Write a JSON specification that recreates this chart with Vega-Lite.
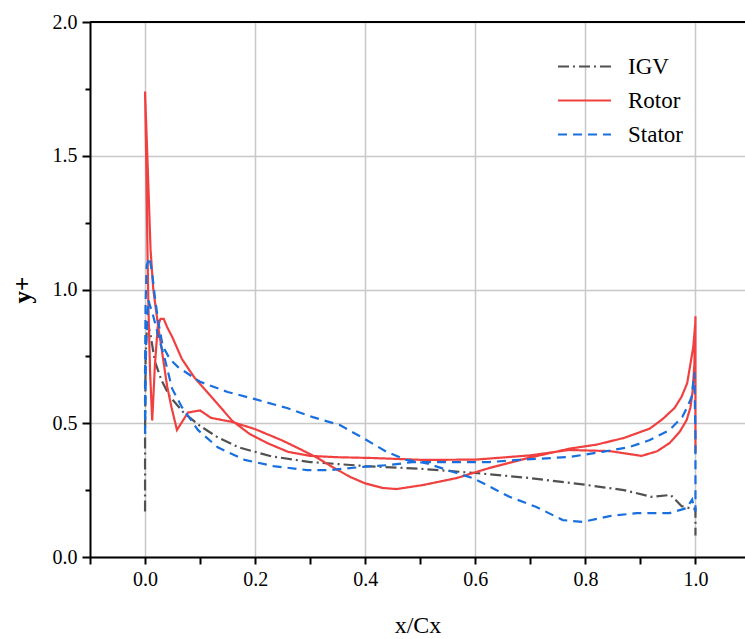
{
  "$schema": "https://vega.github.io/schema/vega-lite/v6.json",
  "width": 655,
  "height": 535,
  "autosize": "none",
  "padding": {"left": 90, "top": 22, "right": 0, "bottom": 82},
  "config": {"view": {"stroke": null}, "font": "Liberation Serif", "background": "white"},
  "layer": [
    {
      "data": {"values": [
        {"s":"IGV","i":1,"x":0.0,"y":0.17},{"s":"IGV","i":2,"x":0.0,"y":0.45},{"s":"IGV","i":3,"x":0.001,"y":0.75},{"s":"IGV","i":4,"x":0.004,"y":0.88},{"s":"IGV","i":5,"x":0.01,"y":0.83},{"s":"IGV","i":6,"x":0.018,"y":0.73},{"s":"IGV","i":7,"x":0.03,"y":0.66},{"s":"IGV","i":8,"x":0.045,"y":0.6},{"s":"IGV","i":9,"x":0.07,"y":0.54},{"s":"IGV","i":10,"x":0.1,"y":0.49},{"s":"IGV","i":11,"x":0.13,"y":0.45},{"s":"IGV","i":12,"x":0.17,"y":0.41},{"s":"IGV","i":13,"x":0.23,"y":0.376},{"s":"IGV","i":14,"x":0.3,"y":0.355},{"s":"IGV","i":15,"x":0.4,"y":0.34},{"s":"IGV","i":16,"x":0.5,"y":0.33},{"s":"IGV","i":17,"x":0.6,"y":0.314},{"s":"IGV","i":18,"x":0.7,"y":0.295},{"s":"IGV","i":19,"x":0.8,"y":0.27},{"s":"IGV","i":20,"x":0.87,"y":0.25},{"s":"IGV","i":21,"x":0.92,"y":0.225},{"s":"IGV","i":22,"x":0.955,"y":0.232},{"s":"IGV","i":23,"x":0.975,"y":0.19},{"s":"IGV","i":24,"x":0.99,"y":0.182},{"s":"IGV","i":25,"x":1.0,"y":0.18},{"s":"IGV","i":26,"x":1.0,"y":0.08},
        {"s":"Rotor","i":1,"x":0.0,"y":1.74},{"s":"Rotor","i":2,"x":0.002,"y":1.5},{"s":"Rotor","i":3,"x":0.004,"y":1.2},{"s":"Rotor","i":4,"x":0.006,"y":0.95},{"s":"Rotor","i":5,"x":0.009,"y":0.7},{"s":"Rotor","i":6,"x":0.013,"y":0.51},{"s":"Rotor","i":7,"x":0.018,"y":0.72},{"s":"Rotor","i":8,"x":0.023,"y":0.86},{"s":"Rotor","i":9,"x":0.028,"y":0.89},{"s":"Rotor","i":10,"x":0.034,"y":0.89},{"s":"Rotor","i":11,"x":0.04,"y":0.86},{"s":"Rotor","i":12,"x":0.05,"y":0.82},{"s":"Rotor","i":13,"x":0.067,"y":0.74},{"s":"Rotor","i":14,"x":0.09,"y":0.67},{"s":"Rotor","i":15,"x":0.12,"y":0.6},{"s":"Rotor","i":16,"x":0.158,"y":0.51},{"s":"Rotor","i":17,"x":0.19,"y":0.46},{"s":"Rotor","i":18,"x":0.223,"y":0.425},{"s":"Rotor","i":19,"x":0.26,"y":0.393},{"s":"Rotor","i":20,"x":0.3,"y":0.378},{"s":"Rotor","i":21,"x":0.35,"y":0.373},{"s":"Rotor","i":22,"x":0.414,"y":0.37},{"s":"Rotor","i":23,"x":0.505,"y":0.363},{"s":"Rotor","i":24,"x":0.6,"y":0.364},{"s":"Rotor","i":25,"x":0.7,"y":0.38},{"s":"Rotor","i":26,"x":0.77,"y":0.4},{"s":"Rotor","i":27,"x":0.844,"y":0.396},{"s":"Rotor","i":28,"x":0.902,"y":0.378},{"s":"Rotor","i":29,"x":0.93,"y":0.395},{"s":"Rotor","i":30,"x":0.953,"y":0.426},{"s":"Rotor","i":31,"x":0.972,"y":0.47},{"s":"Rotor","i":32,"x":0.984,"y":0.512},{"s":"Rotor","i":33,"x":0.991,"y":0.56},{"s":"Rotor","i":34,"x":0.995,"y":0.624},{"s":"Rotor","i":35,"x":0.998,"y":0.72},{"s":"Rotor","i":36,"x":1.0,"y":0.9},{"s":"Rotor","i":37,"x":1.0,"y":0.39},{"s":"Rotor","i":38,"x":1.0,"y":0.88},{"s":"Rotor","i":39,"x":0.996,"y":0.785},{"s":"Rotor","i":40,"x":0.985,"y":0.65},{"s":"Rotor","i":41,"x":0.975,"y":0.6},{"s":"Rotor","i":42,"x":0.962,"y":0.557},{"s":"Rotor","i":43,"x":0.94,"y":0.515},{"s":"Rotor","i":44,"x":0.917,"y":0.48},{"s":"Rotor","i":45,"x":0.87,"y":0.445},{"s":"Rotor","i":46,"x":0.82,"y":0.42},{"s":"Rotor","i":47,"x":0.771,"y":0.405},{"s":"Rotor","i":48,"x":0.7,"y":0.372},{"s":"Rotor","i":49,"x":0.626,"y":0.333},{"s":"Rotor","i":50,"x":0.566,"y":0.295},{"s":"Rotor","i":51,"x":0.505,"y":0.269},{"s":"Rotor","i":52,"x":0.457,"y":0.254},{"s":"Rotor","i":53,"x":0.432,"y":0.258},{"s":"Rotor","i":54,"x":0.4,"y":0.275},{"s":"Rotor","i":55,"x":0.372,"y":0.3},{"s":"Rotor","i":56,"x":0.34,"y":0.337},{"s":"Rotor","i":57,"x":0.312,"y":0.372},{"s":"Rotor","i":58,"x":0.28,"y":0.405},{"s":"Rotor","i":59,"x":0.25,"y":0.435},{"s":"Rotor","i":60,"x":0.2,"y":0.478},{"s":"Rotor","i":61,"x":0.158,"y":0.505},{"s":"Rotor","i":62,"x":0.12,"y":0.52},{"s":"Rotor","i":63,"x":0.1,"y":0.548},{"s":"Rotor","i":64,"x":0.078,"y":0.54},{"s":"Rotor","i":65,"x":0.058,"y":0.475},{"s":"Rotor","i":66,"x":0.048,"y":0.56},{"s":"Rotor","i":67,"x":0.04,"y":0.64},{"s":"Rotor","i":68,"x":0.03,"y":0.78},{"s":"Rotor","i":69,"x":0.024,"y":0.86},{"s":"Rotor","i":70,"x":0.015,"y":1.0},{"s":"Rotor","i":71,"x":0.01,"y":1.15},{"s":"Rotor","i":72,"x":0.005,"y":1.45},{"s":"Rotor","i":73,"x":0.0,"y":1.74},
        {"s":"Stator","i":1,"x":0.0,"y":0.46},{"s":"Stator","i":2,"x":0.0,"y":0.7},{"s":"Stator","i":3,"x":0.001,"y":0.95},{"s":"Stator","i":4,"x":0.003,"y":1.09},{"s":"Stator","i":5,"x":0.008,"y":1.12},{"s":"Stator","i":6,"x":0.013,"y":1.06},{"s":"Stator","i":7,"x":0.018,"y":0.97},{"s":"Stator","i":8,"x":0.024,"y":0.88},{"s":"Stator","i":9,"x":0.032,"y":0.79},{"s":"Stator","i":10,"x":0.045,"y":0.74},{"s":"Stator","i":11,"x":0.06,"y":0.71},{"s":"Stator","i":12,"x":0.1,"y":0.655},{"s":"Stator","i":13,"x":0.15,"y":0.617},{"s":"Stator","i":14,"x":0.2,"y":0.59},{"s":"Stator","i":15,"x":0.258,"y":0.557},{"s":"Stator","i":16,"x":0.305,"y":0.523},{"s":"Stator","i":17,"x":0.354,"y":0.493},{"s":"Stator","i":18,"x":0.396,"y":0.445},{"s":"Stator","i":19,"x":0.439,"y":0.393},{"s":"Stator","i":20,"x":0.475,"y":0.363},{"s":"Stator","i":21,"x":0.512,"y":0.35},{"s":"Stator","i":22,"x":0.566,"y":0.314},{"s":"Stator","i":23,"x":0.595,"y":0.295},{"s":"Stator","i":24,"x":0.62,"y":0.27},{"s":"Stator","i":25,"x":0.662,"y":0.225},{"s":"Stator","i":26,"x":0.711,"y":0.187},{"s":"Stator","i":27,"x":0.759,"y":0.138},{"s":"Stator","i":28,"x":0.795,"y":0.131},{"s":"Stator","i":29,"x":0.844,"y":0.153},{"s":"Stator","i":30,"x":0.893,"y":0.164},{"s":"Stator","i":31,"x":0.953,"y":0.164},{"s":"Stator","i":32,"x":0.984,"y":0.183},{"s":"Stator","i":33,"x":0.994,"y":0.215},{"s":"Stator","i":34,"x":0.998,"y":0.18},{"s":"Stator","i":35,"x":1.0,"y":0.17},{"s":"Stator","i":36,"x":1.0,"y":0.45},{"s":"Stator","i":37,"x":0.998,"y":0.69},{"s":"Stator","i":38,"x":0.993,"y":0.598},{"s":"Stator","i":39,"x":0.985,"y":0.56},{"s":"Stator","i":40,"x":0.976,"y":0.523},{"s":"Stator","i":41,"x":0.953,"y":0.475},{"s":"Stator","i":42,"x":0.917,"y":0.437},{"s":"Stator","i":43,"x":0.88,"y":0.411},{"s":"Stator","i":44,"x":0.831,"y":0.393},{"s":"Stator","i":45,"x":0.771,"y":0.374},{"s":"Stator","i":46,"x":0.68,"y":0.363},{"s":"Stator","i":47,"x":0.626,"y":0.355},{"s":"Stator","i":48,"x":0.535,"y":0.355},{"s":"Stator","i":49,"x":0.486,"y":0.355},{"s":"Stator","i":50,"x":0.445,"y":0.344},{"s":"Stator","i":51,"x":0.396,"y":0.337},{"s":"Stator","i":52,"x":0.336,"y":0.325},{"s":"Stator","i":53,"x":0.294,"y":0.325},{"s":"Stator","i":54,"x":0.233,"y":0.34},{"s":"Stator","i":55,"x":0.181,"y":0.363},{"s":"Stator","i":56,"x":0.132,"y":0.41},{"s":"Stator","i":57,"x":0.096,"y":0.475},{"s":"Stator","i":58,"x":0.067,"y":0.56},{"s":"Stator","i":59,"x":0.049,"y":0.63},{"s":"Stator","i":60,"x":0.036,"y":0.74},{"s":"Stator","i":61,"x":0.025,"y":0.82},{"s":"Stator","i":62,"x":0.015,"y":0.9},{"s":"Stator","i":63,"x":0.006,"y":0.96},{"s":"Stator","i":64,"x":0.002,"y":0.8},{"s":"Stator","i":65,"x":0.0,"y":0.46}
      ]},
      "mark": {"type": "line", "strokeWidth": 2.2},
      "encoding": {
        "x": {"field": "x", "type": "quantitative",
          "scale": {"domain": [-0.1, 1.09], "nice": false, "zero": false},
          "axis": {
            "values": [-0.1, 0, 0.1, 0.2, 0.3, 0.4, 0.5, 0.6, 0.7, 0.8, 0.9, 1.0],
            "labelExpr": "round(datum.value*10)%2==0 ? format(datum.value,'.1f') : ''",
            "labelOverlap": false, "labelFlush": false,
            "grid": true, "gridColor": "#c8c8c8", "gridWidth": 1.5,
            "gridOpacity": {"condition": {"test": "round(datum.value*10)%2==0", "value": 1}, "value": 0},
            "tickSize": 7, "tickWidth": 2, "tickColor": "black",
            "domainColor": "black", "domainWidth": 2,
            "labelFontSize": 20, "labelColor": "black", "labelPadding": 5, "labelFont": "Liberation Serif",
            "title": "x/Cx", "titleFontSize": 24, "titleFontWeight": "normal", "titleColor": "black", "titlePadding": 24, "titleFont": "Liberation Serif"
          }
        },
        "y": {"field": "y", "type": "quantitative",
          "scale": {"domain": [0, 2], "nice": false},
          "axis": {
            "values": [0, 0.25, 0.5, 0.75, 1.0, 1.25, 1.5, 1.75, 2.0],
            "labelExpr": "round(datum.value*4)%2==0 ? format(datum.value,'.1f') : ''",
            "labelOverlap": false, "labelFlush": false,
            "grid": true, "gridColor": "#c8c8c8", "gridWidth": 1.5,
            "gridOpacity": {"condition": {"test": "round(datum.value*4)%2==0", "value": 1}, "value": 0},
            "tickSize": {"condition": {"test": "round(datum.value*4)%2==0", "value": 8}, "value": 5},
            "tickWidth": 2, "tickColor": "black",
            "domainColor": "black", "domainWidth": 2,
            "labelFontSize": 20, "labelColor": "black", "labelPadding": 5, "labelFont": "Liberation Serif",
            "title": "y+", "titleFontSize": 25, "titleFontWeight": "bold", "titleColor": "black", "titlePadding": 17, "titleFont": "Liberation Serif"
          }
        },
        "color": {"field": "s", "type": "nominal",
          "scale": {"domain": ["IGV", "Rotor", "Stator"], "range": ["#515151", "#F14040", "#1A6FDF"]},
          "legend": {"orient": "none", "legendX": 483, "legendY": 33, "title": null, "padding": 0,
            "labelFontSize": 23, "labelFont": "Liberation Serif", "labelColor": "black",
            "symbolType": "M-2.65,0H2.65", "symbolSize": 400, "symbolStrokeWidth": 2.2,
            "labelOffset": 32, "rowPadding": 10}
        },
        "strokeDash": {"field": "s", "type": "nominal",
          "scale": {"domain": ["IGV", "Rotor", "Stator"], "range": [[11, 4, 2, 4], [1, 0], [9, 6]]},
          "legend": {"orient": "none", "legendX": 483, "legendY": 33, "title": null, "padding": 0,
            "labelFontSize": 23, "labelFont": "Liberation Serif", "labelColor": "black",
            "symbolType": "M-2.65,0H2.65", "symbolSize": 400, "symbolStrokeWidth": 2.2,
            "labelOffset": 32, "rowPadding": 10}
        },
        "order": {"field": "i", "type": "quantitative"}
      }
    },
    {
      "data": {"values": [{}]},
      "mark": {"type": "rule", "color": "black", "strokeWidth": 2},
      "encoding": {"y": {"datum": 2, "type": "quantitative"}}
    }
  ]
}
